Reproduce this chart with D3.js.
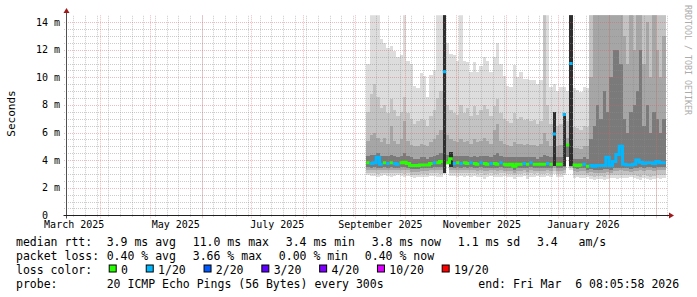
<!DOCTYPE html>
<html>
<head>
<meta charset="utf-8">
<script src="https://cdn.jsdelivr.net/npm/d3@7"></script>
<style>
  body { margin: 0; background: #fff; }
  svg text { font-family: "DejaVu Sans Mono", monospace; fill: #000; white-space: pre; }
</style>
</head>
<body>
<div id="chart"></div>
<script>
// one column = 2 days of consolidated pings, first column starts 2025-09-08
const firstSample = "2025-09-08";
const stepDays = 2;

const medianMs = [
  3.8, 3.75, 3.8, 4.2, 3.7, 3.8, 3.75, 3.8, 3.75, 3.7,
  3.8, 3.85, 3.75, 3.6, 3.6, 3.6, 3.65, 3.65, 3.65, 3.75,
  3.8, 3.8, 3.9, 10.4, 3.8, 4.1, 3.75, 3.8, 3.75, 3.8,
  3.75, 3.8, 3.75, 3.7, 3.8, 3.75, 3.7, 3.75, 3.75, 3.7,
  3.8, 3.7, 3.65, 3.7, 3.55, 3.7, 3.7, 3.75, 3.7, 3.8,
  3.7, 3.7, 3.7, 3.7, 3.75, 3.7, 5.9, 3.7, 3.7, 7.3,
  5.1, 11.0, 3.65, 3.6, 3.65, 3.7, 3.55, 3.6, 3.55, 3.6,
  3.6, 3.6, 4.2, 3.6, 3.9, 4.4, 5.0, 3.7, 3.65, 3.65,
  3.7, 4.0, 3.85, 3.75, 3.8, 3.8, 3.75, 3.9, 3.8, 3.8
];
const lossCount = [
  0, 1, 1, 1, 1, 0, 1, 0, 1, 1,
  0, 0, 0, 0, 0, 0, 0, 0, 0, 0,
  1, 0, 0, 1, 0, 0, 1, 0, 1, 0,
  0, 1, 0, 0, 1, 0, 0, 1, 0, 0,
  1, 0, 0, 0, 0, 0, 0, 1, 0, 1,
  0, 0, 0, 0, 1, 0, 1, 0, 0, 1,
  0, 1, 0, 0, 0, 1, 0, 1, 1, 1,
  1, 1, 1, 1, 1, 1, 1, 1, 1, 1,
  1, 1, 1, 1, 1, 1, 1, 1, 1, 1
];

// smoke: outer (lightest) to inner (darkest) ping spreads, in ms
const smokeMax = [
  11.0, 15, 15, 15, 12.8, 12.5, 12.1, 12.3, 11.9, 11.5,
  11.6, 15, 11.2, 11.0, 9.4, 9.2, 10.3, 10.1, 8.6, 10.2,
  10.5, 15, 15, 15, 12.5, 11.7, 11.6, 11.2, 15, 11.2,
  11.1, 10.4, 11.1, 10.4, 10.8, 11.5, 11.2, 10.4, 11.5, 12.5,
  11.0, 10.1, 9.4, 9.3, 10.9, 10.0, 10.4, 9.9, 9.9, 9.8,
  9.8, 9.5, 9.8, 15, 15, 9.3, 9.5, 9.0, 9.3, 9.3,
  9.0, 15, 9.2, 9.1, 8.9, 9.3, 9.2, 15, 15, 15,
  15, 15, 15, 15, 15, 15, 15, 15, 15, 15,
  15, 15, 15, 15, 15, 15, 15, 15, 15, 15
];
const smokeHi2 = [
  7.5, 8.8, 9.5, 8.6, 7.8, 8.0, 7.4, 8.4, 7.6, 7.2,
  7.5, 8.6, 7.4, 7.0, 6.6, 6.8, 7.0, 6.9, 6.5, 7.2,
  7.6, 8.5, 9.0, 15, 8.0, 7.6, 7.4, 7.3, 8.0, 7.4,
  7.8, 7.2, 7.9, 7.3, 7.6, 8.0, 7.7, 7.2, 7.9, 8.4,
  7.4, 7.0, 6.8, 6.7, 7.4, 7.0, 7.1, 6.9, 7.0, 6.8,
  6.9, 6.6, 6.8, 15, 8.0, 6.6, 7.5, 6.5, 6.6, 7.4,
  6.8, 15, 6.4, 6.3, 6.2, 6.5, 6.4, 15, 15, 15,
  15, 15, 15, 15, 15, 15, 15, 15, 15, 15,
  15, 15, 15, 15, 15, 15, 15, 15, 15, 15
];
const smokeHi3 = [
  5.4, 5.8, 6.0, 5.6, 5.3, 5.6, 5.2, 6.5, 5.4, 5.2,
  5.5, 6.8, 5.4, 5.1, 5.0, 5.0, 5.2, 5.1, 5.0, 5.3,
  5.5, 5.8, 6.2, 15, 5.8, 5.5, 5.4, 5.3, 5.5, 5.3,
  5.4, 5.2, 5.5, 5.3, 5.4, 5.6, 5.4, 5.2, 6.2, 6.6,
  5.4, 5.2, 5.1, 5.0, 5.3, 5.2, 5.2, 5.1, 5.2, 5.1,
  5.1, 5.0, 5.2, 6.0, 5.4, 5.0, 7.5, 5.0, 5.1, 7.4,
  5.6, 15, 4.9, 4.9, 4.8, 5.0, 5.0, 10.0, 15, 15,
  15, 15, 15, 15, 15, 15, 15, 13.0, 11.0, 15,
  12.0, 15, 15, 11.0, 14.0, 10.0, 15, 12.0, 10.0, 13.0
];
const smokeHi4 = [
  4.3, 4.4, 4.4, 4.5, 4.3, 4.3, 4.3, 4.4, 4.3, 4.2,
  4.3, 4.5, 4.3, 4.2, 4.1, 4.1, 4.2, 4.2, 4.1, 4.2,
  4.3, 4.4, 4.5, 15, 4.4, 4.4, 4.3, 4.3, 4.3, 4.3,
  4.3, 4.2, 4.3, 4.2, 4.3, 4.3, 4.3, 4.2, 4.4, 4.5,
  4.3, 4.2, 4.2, 4.2, 4.2, 4.2, 4.2, 4.2, 4.2, 4.2,
  4.2, 4.1, 4.2, 4.4, 4.3, 4.2, 7.5, 4.2, 4.2, 7.4,
  5.2, 15, 4.1, 4.1, 4.1, 4.2, 4.1, 5.5, 6.5, 8.0,
  7.0, 9.0, 7.5, 10.0, 12.0, 12.0, 11.0, 7.0, 6.0, 7.5,
  8.0, 9.0, 12.0, 6.5, 8.0, 6.0, 7.5, 7.0, 6.0, 7.0
];
const smokeLo4 = [
  3.5, 3.45, 3.5, 3.45, 3.45, 3.5, 3.45, 3.5, 3.45, 3.45,
  3.5, 3.5, 3.45, 3.35, 3.35, 3.35, 3.4, 3.4, 3.4, 3.45,
  3.5, 3.5, 3.5, 3.1, 3.8, 3.5, 3.45, 3.5, 3.45, 3.5,
  3.45, 3.5, 3.45, 3.4, 3.5, 3.45, 3.4, 3.45, 3.45, 3.4,
  3.5, 3.4, 3.4, 3.4, 3.3, 3.4, 3.4, 3.45, 3.4, 3.5,
  3.4, 3.4, 3.4, 3.4, 3.45, 3.4, 3.6, 3.4, 3.4, 3.5,
  4.2, 3.6, 3.4, 3.35, 3.4, 3.4, 3.3, 3.35, 3.3, 3.3,
  3.3, 3.35, 3.35, 3.3, 3.4, 3.4, 3.45, 3.4, 3.4, 3.35,
  3.4, 3.45, 3.5, 3.45, 3.5, 3.5, 3.45, 3.5, 3.5, 3.5
];
const smokeLo3 = [
  3.3, 3.25, 3.3, 3.25, 3.25, 3.3, 3.25, 3.3, 3.25, 3.25,
  3.3, 3.25, 3.25, 3.15, 3.15, 3.15, 3.2, 3.2, 3.2, 3.25,
  3.3, 3.3, 3.25, 3.1, 3.8, 3.3, 3.25, 3.3, 3.25, 3.3,
  3.25, 3.3, 3.25, 3.2, 3.3, 3.2, 3.2, 3.25, 3.25, 3.2,
  3.3, 3.2, 3.2, 3.2, 3.1, 3.2, 3.2, 3.25, 3.15, 3.3,
  3.2, 3.2, 3.2, 3.2, 3.25, 3.2, 3.4, 3.2, 3.2, 3.3,
  4.2, 3.5, 3.2, 3.15, 3.2, 3.2, 3.1, 3.15, 3.05, 3.1,
  3.1, 3.1, 3.15, 3.1, 3.2, 3.2, 3.25, 3.2, 3.2, 3.15,
  3.2, 3.2, 3.25, 3.2, 3.3, 3.25, 3.2, 3.3, 3.3, 3.3
];
const smokeLo2 = [
  3.1, 3.05, 3.1, 3.0, 3.05, 3.1, 3.05, 3.05, 3.05, 3.1,
  3.1, 3.0, 3.05, 2.95, 2.9, 2.95, 3.0, 3.0, 2.95, 3.05,
  3.05, 3.05, 3.0, 3.05, 3.8, 3.1, 3.05, 3.05, 3.05, 3.1,
  3.05, 3.05, 3.05, 3.0, 3.05, 2.9, 3.0, 3.05, 3.0, 3.0,
  3.05, 3.05, 3.0, 3.0, 2.9, 3.0, 3.0, 3.05, 2.9, 3.05,
  3.0, 3.05, 3.0, 3.0, 3.05, 3.0, 3.2, 3.0, 3.0, 3.1,
  4.2, 3.4, 2.95, 2.95, 2.95, 2.95, 2.9, 2.85, 2.8, 2.85,
  2.85, 2.8, 2.9, 2.95, 2.95, 2.9, 2.95, 2.95, 2.95, 2.95,
  2.95, 2.85, 2.8, 2.95, 2.85, 2.8, 2.85, 2.95, 2.9, 2.95
];
const smokeMin = [
  2.9, 2.85, 2.85, 2.8, 2.85, 2.9, 2.85, 2.8, 2.85, 2.9,
  2.85, 2.75, 2.85, 2.75, 2.7, 2.75, 2.75, 2.8, 2.75, 2.85,
  2.85, 2.8, 2.75, 3.0, 3.8, 2.85, 2.85, 2.8, 2.85, 2.8,
  2.85, 2.8, 2.85, 2.8, 2.8, 2.65, 2.8, 2.85, 2.8, 2.75,
  2.8, 2.85, 2.8, 2.8, 2.65, 2.8, 2.8, 2.85, 2.65, 2.8,
  2.8, 2.85, 2.8, 2.8, 2.85, 2.8, 3.0, 2.8, 2.8, 2.9,
  4.2, 3.3, 2.7, 2.75, 2.7, 2.7, 2.75, 2.6, 2.55, 2.6,
  2.6, 2.55, 2.65, 2.7, 2.7, 2.65, 2.7, 2.7, 2.7, 2.75,
  2.7, 2.6, 2.55, 2.7, 2.6, 2.55, 2.6, 2.7, 2.65, 2.7
];

// columns where almost all pings sit in one dark streak
const coreCols = [23, 25, 56, 59, 61];
const coreLo = [3.1, 3.5, 3.6, 3.6, 3.6];
const coreHi = [15, 4.6, 7.5, 7.4, 15];

const yTicks = [0, 2, 4, 6, 8, 10, 12, 14];

// legend
const rttStats = ["3.9 ms avg", "11.0 ms max", "3.4 ms min", "3.8 ms now", "1.1 ms sd", "3.4   am/s"];
const lossStats = ["0.40 % avg", "3.66 % max", "0.00 % min", "0.40 % now"];
const lossLevels = [0, 1, 2, 3, 4, 10, 19];
const lossLabels = ["0", "1/20", "2/20", "3/20", "4/20", "10/20", "19/20"];
const lossColors = ["#26ff00", "#00b8ff", "#0059ff", "#5e00ff", "#7e00ff", "#dd00ff", "#ff0000"];
const probeText = "20 ICMP Echo Pings (56 Bytes) every 300s";
const endText = "end: Fri Mar  6 08:05:58 2026";


class SmokeChart {
    constructor(parentElement, dim = [697, 297]) {
        this.parentElement = parentElement;
        this.dim = dim;
    }

    initVis() {
        let vis = this;
        vis.plot = {left: 67, right: 668, top: 15.2, bottom: 215.3};

        vis.svg = d3.select("#" + vis.parentElement).append("svg")
            .attr("width", vis.dim[0])
            .attr("height", vis.dim[1]);

        vis.x = d3.scaleUtc()
            .domain([new Date(Date.UTC(2025, 2, 12, 4)), new Date(Date.UTC(2026, 2, 8, 8))])
            .range([vis.plot.left, vis.plot.right]);
        vis.y = d3.scaleLinear()
            .domain([0, 14.5])
            .range([vis.plot.bottom, vis.plot.top]);
        vis.lossColor = d3.scaleThreshold()
            .domain(lossLevels.slice(1))
            .range(lossColors);

        vis.svg.append("defs").append("clipPath")
            .attr("id", "plotclip")
            .append("rect")
            .attr("x", vis.plot.left)
            .attr("y", vis.plot.top)
            .attr("width", vis.plot.right - vis.plot.left)
            .attr("height", vis.plot.bottom - vis.plot.top);

        let start = new Date(firstSample + "T00:00:00Z");
        vis.cols = medianMs.map((m, i) => ({
            t0: d3.utcDay.offset(start, i * stepDays),
            t1: d3.utcDay.offset(start, (i + 1) * stepDays),
            median: m,
            loss: lossCount[i]
        }));

        vis.drawSmoke();
        vis.drawGrid();
        vis.drawMedian();
        vis.drawAxes();
        vis.drawLegend();
    }

    drawSmoke() {
        let vis = this;
        let g = vis.svg.append("g")
            .attr("clip-path", "url(#plotclip)")
            .attr("shape-rendering", "crispEdges");

        let area = d3.area()
            .x(d => vis.x(d.t))
            .y0(d => vis.y(d.lo))
            .y1(d => vis.y(d.hi));

        let bands = [
            {lo: smokeMin, hi: smokeMax, color: "#dddddd"},
            {lo: smokeLo2, hi: smokeHi2, color: "#c3c3c3"},
            {lo: smokeLo3, hi: smokeHi3, color: "#a6a6a6"},
            {lo: smokeLo4, hi: smokeHi4, color: "#7a7a7a"}
        ];

        bands.forEach(b => {
            let pts = vis.cols.flatMap((c, i) => [
                {t: c.t0, lo: b.lo[i], hi: b.hi[i]},
                {t: c.t1, lo: b.lo[i], hi: b.hi[i]}
            ]);
            g.append("path")
                .attr("d", area(pts))
                .attr("fill", b.color);
        });

        coreCols.forEach((ci, k) => {
            let c = vis.cols[ci];
            g.append("path")
                .attr("d", area([{t: c.t0, lo: coreLo[k], hi: coreHi[k]}, {t: c.t1, lo: coreLo[k], hi: coreHi[k]}]))
                .attr("fill", "#2e2e2e");
        });
    }

    drawGrid() {
        let vis = this;
        let g = vis.svg.append("g").attr("class", "grid");
        let p = vis.plot;
        let xd = vis.x.domain();
        let snap = v => Math.round(v) + 0.5;
        let minor = "rgba(140,140,140,0.45)", major = "rgba(225,90,90,0.42)";

        // minor: weeks and half milliseconds
        d3.utcSunday.range(xd[0], xd[1]).forEach(d => {
            g.append("line")
                .attr("x1", snap(vis.x(d))).attr("x2", snap(vis.x(d)))
                .attr("y1", p.bottom + 1.5).attr("y2", p.top)
                .attr("stroke", minor)
                .attr("stroke-dasharray", "1,1");
        });
        d3.range(0.5, 14.5, 0.5).filter(v => v % 2 !== 0).forEach(v => {
            g.append("line")
                .attr("x1", p.left - 3).attr("x2", p.right)
                .attr("y1", snap(vis.y(v))).attr("y2", snap(vis.y(v)))
                .attr("stroke", minor)
                .attr("stroke-dasharray", "1,1");
        });

        // major: months and 2 ms
        d3.utcMonth.range(xd[0], xd[1]).forEach(d => {
            g.append("line")
                .attr("x1", snap(vis.x(d))).attr("x2", snap(vis.x(d)))
                .attr("y1", p.bottom + 3).attr("y2", p.top)
                .attr("stroke", major)
                .attr("stroke-dasharray", "1,1");
        });
        yTicks.filter(v => v > 0).forEach(v => {
            g.append("line")
                .attr("x1", p.left - 3).attr("x2", p.right)
                .attr("y1", snap(vis.y(v))).attr("y2", snap(vis.y(v)))
                .attr("stroke", major)
                .attr("stroke-dasharray", "1,1");
        });
    }

    drawMedian() {
        let vis = this;
        let g = vis.svg.append("g").attr("clip-path", "url(#plotclip)");
        let pts = vis.cols.flatMap(c => [
            {t: c.t0, v: c.median, loss: c.loss},
            {t: c.t1, v: c.median, loss: c.loss}
        ]);
        lossColors.forEach(col => {
            let line = d3.line()
                .defined(d => vis.lossColor(d.loss) === col)
                .x(d => vis.x(d.t))
                .y(d => vis.y(d.v));
            g.append("path")
                .attr("d", line(pts))
                .attr("fill", "none")
                .attr("stroke", col)
                .attr("stroke-width", 3);
        });
    }

    drawAxes() {
        let vis = this;
        let ax = 66.5, ay = 215.5;

        vis.svg.append("line")
            .attr("x1", ax).attr("x2", ax)
            .attr("y1", ay + 3).attr("y2", 12)
            .attr("stroke", "#505050");
        vis.svg.append("line")
            .attr("x1", ax - 3).attr("x2", 670)
            .attr("y1", ay).attr("y2", ay)
            .attr("stroke", "#202020");
        vis.svg.append("path")
            .attr("d", `M${ax - 3},13 L${ax + 3},13 L${ax},8 Z`)
            .attr("fill", "#a01818");
        vis.svg.append("path")
            .attr("d", `M669,${ay - 3} L669,${ay + 3} L674,${ay} Z`)
            .attr("fill", "#a01818");

        // y labels
        vis.svg.selectAll(".ylab")
            .data(yTicks)
            .enter().append("text")
            .attr("class", "ylab")
            .attr("x", 60)
            .attr("y", d => vis.y(d) + 3.5)
            .attr("text-anchor", "end")
            .attr("font-size", 10)
            .text(d => d === 0 ? "0  " : d + " m");

        // month labels every two months, centred in the month
        let xd = vis.x.domain();
        let months = d3.utcMonth.every(2).range(d3.utcMonth.floor(xd[0]), xd[1])
            .filter(d => d3.utcHour.offset(d, 15.5 * 24) < xd[1]);
        vis.svg.selectAll(".xlab")
            .data(months)
            .enter().append("text")
            .attr("class", "xlab")
            .attr("x", d => vis.x(d3.utcHour.offset(d, 15.5 * 24)))
            .attr("y", 227.5)
            .attr("text-anchor", "middle")
            .attr("font-size", 10)
            .text(d => d3.utcFormat("%B %Y")(d));

        vis.svg.append("text")
            .attr("transform", "translate(15,113.5) rotate(-90)")
            .attr("text-anchor", "middle")
            .attr("font-size", 11)
            .text("Seconds");

        vis.svg.append("text")
            .attr("transform", "translate(684.5,60) rotate(90)")
            .attr("text-anchor", "middle")
            .attr("font-size", 8.3)
            .style("fill", "#acacac")
            .text("RRDTOOL / TOBI OETIKER");
    }

    drawLegend() {
        let vis = this;
        let fs = 11.5, col2 = 106.7, gap = 16.8;
        let rows = [245.5, 259.5, 273.5, 287.5];
        let g = vis.svg.append("g").attr("font-size", fs);

        let row = (y, label, items) => {
            g.append("text").attr("x", 16).attr("y", y).text(label);
            let x = col2;
            items.forEach(s => {
                let t = g.append("text").attr("x", x).attr("y", y).text(s);
                x += t.node().getComputedTextLength() + gap;
            });
        };
        row(rows[0], "median rtt:", rttStats);
        row(rows[1], "packet loss:", lossStats);

        g.append("text").attr("x", 16).attr("y", rows[2]).text("loss color:");
        let x = col2;
        lossLabels.forEach((lab, i) => {
            g.append("rect")
                .attr("x", x + 2.5).attr("y", rows[2] - 8.5)
                .attr("width", 7).attr("height", 7)
                .attr("fill", lossColors[i])
                .attr("stroke", "#000")
                .attr("stroke-width", 1);
            let t = g.append("text").attr("x", x + 14.3).attr("y", rows[2]).text(lab);
            x += 14.3 + t.node().getComputedTextLength() + 15.8;
        });

        g.append("text").attr("x", 16).attr("y", rows[3]).text("probe:");
        g.append("text").attr("x", col2).attr("y", rows[3]).text(probeText);
        g.append("text").attr("x", 478.3).attr("y", rows[3]).text(endText);
    }
}

let chart = new SmokeChart("chart");
chart.initVis();
</script>
</body>
</html>
